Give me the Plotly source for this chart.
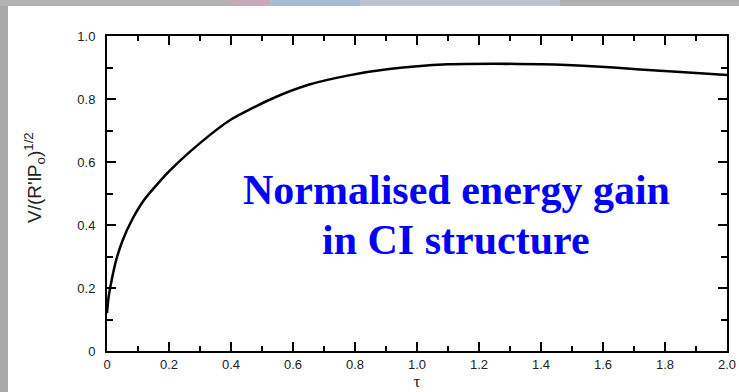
import plotly.graph_objects as go

# Data
tau = [0, 0.005, 0.015, 0.03, 0.05, 0.08, 0.12, 0.2, 0.3, 0.4, 0.53,
       0.65, 0.78, 0.91, 1.1, 1.25, 1.4, 1.55, 1.72, 1.85, 2.0]
v_norm = [0.12, 0.17, 0.225, 0.29, 0.35, 0.415, 0.48, 0.57, 0.66, 0.735, 0.80,
          0.845, 0.875, 0.895, 0.91, 0.912, 0.91, 0.905, 0.894, 0.886, 0.876]

x_ticks = [0, 0.2, 0.4, 0.6, 0.8, 1.0, 1.2, 1.4, 1.6, 1.8, 2.0]
x_labels = ["0", "0.2", "0.4", "0.6", "0.8", "1.0", "1.2", "1.4", "1.6", "1.8", "2.0"]
y_ticks = [0, 0.2, 0.4, 0.6, 0.8, 1.0]
y_labels = ["0", "0.2", "0.4", "0.6", "0.8", "1.0"]

L, T, PW, PH = 107, 36, 620, 315
W, H = 739, 392

fig = go.Figure()
fig.add_trace(go.Scatter(x=tau, y=v_norm, mode="lines",
                         line=dict(color="black", width=2.5, shape="spline", smoothing=0.6),
                         hoverinfo="skip", showlegend=False))

axis_font = dict(family="Liberation Sans, Arial, sans-serif", size=13, color="#222")

fig.update_xaxes(range=[0, 2.0], tickvals=x_ticks, ticktext=x_labels, automargin=False,
                 showgrid=False, zeroline=False, showline=True, linecolor="black",
                 linewidth=2, mirror="ticks", ticks="inside", ticklen=9, tickwidth=1.5,
                 tickcolor="black", tickfont=axis_font,
                 minor=dict(dtick=0.1, ticks="inside", ticklen=5, tickwidth=1.5, tickcolor="black"),
                 title=dict(text="τ", font=dict(family="Liberation Serif, serif", size=17, color="#222"),
                            standoff=3))
fig.update_yaxes(range=[0, 1.0], tickvals=y_ticks, ticktext=y_labels, automargin=False,
                 showgrid=False, zeroline=False, showline=True, linecolor="black",
                 linewidth=2, mirror="ticks", ticks="inside", ticklen=9, tickwidth=1.5,
                 tickcolor="black", tickfont=axis_font, ticklabelstandoff=7,
                 minor=dict(dtick=0.1, ticks="inside", ticklen=6, tickwidth=1.5, tickcolor="black"))

# y-axis title placed as a rotated annotation
fig.add_annotation(text="V/(R'lP<sub>o</sub>)<sup>1/2</sup>", textangle=-90,
                   xref="paper", yref="paper", x=(35 - L) / PW, y=(T + PH - 178) / PH,
                   xanchor="center", yanchor="middle", showarrow=False,
                   font=dict(family="Liberation Sans, Arial, sans-serif", size=19, color="#222"))

fig.add_annotation(text="<b>Normalised energy gain</b>",
                   xref="x", yref="y", x=1.126, y=0.511, showarrow=False,
                   font=dict(family="Liberation Serif, Times New Roman, serif", size=42, color="#0000FF"))
fig.add_annotation(text="<b>in CI structure</b>",
                   xref="x", yref="y", x=1.126, y=0.352, showarrow=False,
                   font=dict(family="Liberation Serif, Times New Roman, serif", size=42, color="#0000FF"))


def px_rect(x0, x1, y0, y1, color):
    fig.add_shape(type="rect", xref="paper", yref="paper",
                  x0=(x0 - L) / PW, x1=(x1 - L) / PW,
                  y0=(T + PH - y1) / PH, y1=(T + PH - y0) / PH,
                  fillcolor=color, line_width=0, layer="below")


# background strips of the slide (pixel positions)
px_rect(0, 8, 0, H, "#a9a9a9")
for a, b, c in [(0, 230, "#b2b2b2"), (230, 270, "#c6aab8"), (270, 360, "#aabbd8"),
                (360, 560, "#bcc4d0"), (560, W, "#b0b0b0")]:
    px_rect(a, b, 0, 6, c)

fig.update_layout(width=W, height=H, margin=dict(l=L, r=W - L - PW, t=T, b=H - T - PH),
                  paper_bgcolor="white", plot_bgcolor="white", showlegend=False)

fig.write_html("out.html", config={"displayModeBar": False},
               post_script="document.body.style.margin='0';document.body.style.overflow='hidden';")
